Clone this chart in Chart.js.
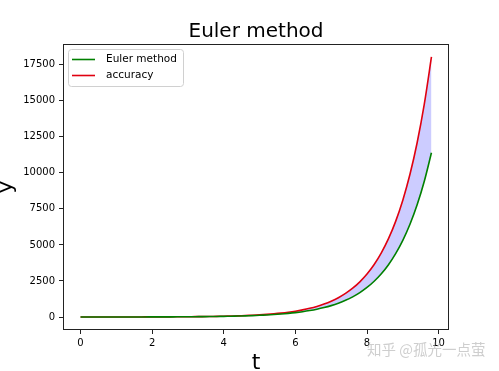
<!DOCTYPE html>
<html>
<head>
<meta charset="utf-8">
<script src="https://cdn.jsdelivr.net/npm/chart.js@4/dist/chart.umd.min.js"></script>
<style>
html,body{margin:0;padding:0;background:#fff;}
#wrap{width:499px;height:371px;position:relative;}
</style>
</head>
<body>
<div id="wrap"><canvas id="c" width="499" height="371"></canvas></div>
<script>
// t values (step 0.2)
const tValues = [0,0.2,0.4,0.6,0.8,1,1.2,1.4,1.6,1.8,2,2.2,2.4,2.6,2.8,3,3.2,3.4,3.6,3.8,4,4.2,4.4,4.6,4.8,5,5.2,5.4,5.6,5.8,6,6.2,6.4,6.6,6.8,7,7.2,7.4,7.6,7.8,8,8.2,8.4,8.6,8.8,9,9.2,9.4,9.6,9.8];
// Euler method series
const eulerValues = [1,1.21,1.46,1.77,2.14,2.59,3.14,3.80,4.60,5.56,6.73,8.14,9.85,11.9,14.4,17.4,21.1,25.5,30.9,37.4,45.3,54.8,66.3,80.2,97.0,117,142,172,208,252,304,368,446,539,653,790,956,1156,1399,1693,2048,2479,2999,3629,4391,5313,6429,7779,9413,11389];
// accuracy series
const accuracyValues = [1,1.22,1.49,1.82,2.23,2.72,3.32,4.06,4.95,6.05,7.39,9.03,11.0,13.5,16.4,20.1,24.5,30.0,36.6,44.7,54.6,66.7,81.5,99.5,122,148,181,221,270,330,403,493,602,735,898,1097,1339,1636,1998,2441,2981,3641,4447,5432,6634,8103,9897,12088,14765,18034];
const xTicks = [0,2,4,6,8,10];
const yTicks = [0,2500,5000,7500,10000,12500,15000,17500];
const seriesNames = ['Euler method','accuracy'];
const xLimits = [-0.49, 10.29];
const yLimits = [-901, 18935];

const FONT = '"DejaVu Sans", sans-serif';
const GREEN = '#008000';
const RED = '#e00010';

const deco = {
  id: 'deco',
  afterDraw(chart) {
    const ctx = chart.ctx, a = chart.chartArea;
    ctx.save();
    // frame
    ctx.strokeStyle = '#222';
    ctx.lineWidth = 1;
    ctx.strokeRect(Math.round(a.left)+0.5, Math.round(a.top)+0.5, Math.round(a.right-a.left)-1, Math.round(a.bottom-a.top)-1);
    // title
    ctx.fillStyle = '#000';
    ctx.font = '20px ' + FONT;
    ctx.textAlign = 'center';
    ctx.textBaseline = 'alphabetic';
    ctx.fillText('Euler method', (a.left+a.right)/2, 37);
    // x label
    ctx.font = '22px ' + FONT;
    ctx.fillText('t', (a.left+a.right)/2, 369);
    // y label
    ctx.save();
    ctx.translate(12, 187);
    ctx.rotate(-Math.PI/2);
    ctx.fillText('y', 0, 0);
    ctx.restore();
    // legend
    const lx = a.left + 5, ly = a.top + 5, lw = 115, lh = 37;
    ctx.beginPath();
    if (ctx.roundRect) ctx.roundRect(lx+0.5, ly+0.5, lw, lh, 3); else ctx.rect(lx+0.5, ly+0.5, lw, lh);
    ctx.fillStyle = 'rgba(255,255,255,0.8)';
    ctx.fill();
    ctx.strokeStyle = '#d0d0d0';
    ctx.lineWidth = 1;
    ctx.stroke();
    const cols = [GREEN, RED];
    ctx.font = '10.5px ' + FONT;
    ctx.textAlign = 'left';
    ctx.textBaseline = 'middle';
    seriesNames.forEach((n, i) => {
      const yy = ly + 10.5 + i*16;
      ctx.beginPath();
      ctx.moveTo(lx+4, yy); ctx.lineTo(lx+27, yy);
      ctx.strokeStyle = cols[i];
      ctx.lineWidth = 1.6;
      ctx.stroke();
      ctx.fillStyle = '#000';
      ctx.fillText(n, lx+38, yy);
    });
    // watermark
    ctx.font = '14.5px "Noto Sans CJK SC", sans-serif';
    ctx.fillStyle = 'rgba(185,185,185,0.7)';
    ctx.textAlign = 'left';
    ctx.textBaseline = 'middle';
    ctx.fillText('知乎 @孤光一点萤', 367, 349);
    ctx.restore();
  }
};

new Chart(document.getElementById('c'), {
  type: 'line',
  data: {
    datasets: [
      {
        label: seriesNames[0],
        data: tValues.map((t, i) => ({x: t, y: eulerValues[i]})),
        borderColor: GREEN,
        borderWidth: 1.6,
        pointRadius: 0,
        fill: false,
        tension: 0.3
      },
      {
        label: seriesNames[1],
        data: tValues.map((t, i) => ({x: t, y: accuracyValues[i]})),
        borderColor: RED,
        borderWidth: 1.6,
        pointRadius: 0,
        fill: {target: 0},
        backgroundColor: 'rgba(0,0,255,0.2)',
        tension: 0.3
      }
    ]
  },
  options: {
    responsive: false,
    animation: false,
    layout: {padding: {left: 0, top: 44, right: 50, bottom: 0}},
    plugins: {legend: {display: false}, tooltip: {enabled: false}, title: {display: false}},
    scales: {
      x: {
        type: 'linear',
        min: xLimits[0], max: xLimits[1],
        afterBuildTicks: s => { s.ticks = xTicks.map(v => ({value: v})); },
        afterFit: s => { s.height = 41; },
        grid: {display: true, drawOnChartArea: false, drawTicks: true, tickLength: 4, color: '#222'},
        border: {display: false},
        ticks: {color: '#000', font: {family: FONT, size: 10}, padding: 3, maxRotation: 0, autoSkip: false, callback: v => String(v)}
      },
      y: {
        type: 'linear',
        min: yLimits[0], max: yLimits[1],
        afterBuildTicks: s => { s.ticks = yTicks.map(v => ({value: v})); },
        afterFit: s => { s.width = 63; },
        grid: {display: true, drawOnChartArea: false, drawTicks: true, tickLength: 4, color: '#222'},
        border: {display: false},
        ticks: {color: '#000', font: {family: FONT, size: 10}, padding: 4, autoSkip: false, callback: v => String(v)}
      }
    }
  },
  plugins: [deco]
});
</script>
</body>
</html>
